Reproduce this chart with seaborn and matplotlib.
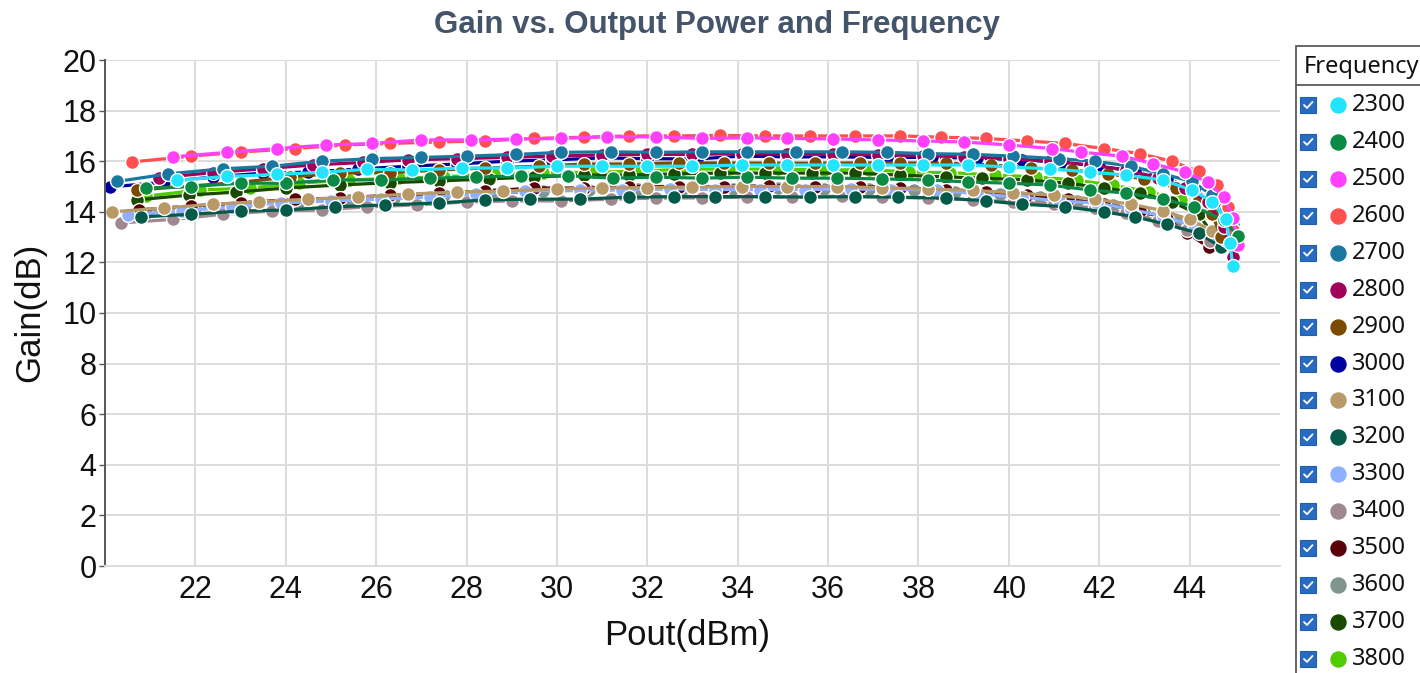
import numpy as np
import pandas as pd
import matplotlib
matplotlib.use("Agg")
import matplotlib.pyplot as plt
import seaborn as sns
from matplotlib.patches import Rectangle
from matplotlib.lines import Line2D

# ---------------- data ----------------
freqs = ["2300", "2400", "2500", "2600", "2700", "2800", "2900", "3000",
         "3100", "3200", "3300", "3400", "3500", "3600", "3700", "3800"]
colors = ["#22e4ff", "#0a8a45", "#ff40ff", "#ff5050", "#1a78a0", "#a0005a",
          "#7a4a00", "#0000a0", "#b89968", "#055a4a", "#8fb0ff", "#a08890",
          "#5a0008", "#80958f", "#1a4a00", "#50cc00"]

pout_2300 = [21.6, 22.7, 23.8, 24.8, 25.8, 26.8, 27.9, 28.9, 30.0, 31.0, 32.0, 33.0, 34.1, 35.1,
             36.1, 37.1, 38.1, 39.1, 40.0, 40.9, 41.8, 42.6, 43.4, 44.05, 44.5, 44.8, 44.9, 44.95]
gain_2300 = [15.25, 15.4, 15.48, 15.56, 15.68, 15.65, 15.73, 15.73, 15.8, 15.8, 15.8, 15.8, 15.85, 15.85,
             15.85, 15.85, 15.85, 15.85, 15.77, 15.7, 15.57, 15.45, 15.26, 14.86, 14.4, 13.7, 12.75, 11.86]

pout_2400 = [20.9, 21.9, 23.0, 24.0, 25.05, 26.1, 27.2, 28.2, 29.2, 30.25, 31.25, 32.2, 33.2, 34.2,
             35.2, 36.2, 37.2, 38.2, 39.1, 40.0, 40.9, 41.8, 42.6, 43.4, 44.1, 44.75, 45.07]
gain_2400 = [14.94, 15.0, 15.13, 15.13, 15.26, 15.26, 15.33, 15.37, 15.42, 15.42, 15.33, 15.37, 15.33, 15.37,
             15.33, 15.33, 15.3, 15.26, 15.18, 15.13, 15.06, 14.86, 14.74, 14.5, 14.2, 13.68, 13.04]

pout_2500 = [21.5, 22.7, 23.8, 24.9, 25.9, 27.0, 28.1, 29.1, 30.1, 31.1, 32.2, 33.2, 34.2, 35.1,
             36.1, 37.1, 38.1, 39.0, 40.0, 40.96, 41.6, 42.5, 43.2, 43.9, 44.4, 44.75, 44.97, 45.07]
gain_2500 = [16.17, 16.35, 16.5, 16.64, 16.7, 16.84, 16.84, 16.88, 16.9, 16.96, 16.96, 16.9, 16.92, 16.9,
             16.88, 16.84, 16.8, 16.76, 16.64, 16.5, 16.36, 16.2, 15.9, 15.57, 15.17, 14.6, 13.75, 12.7]

pout_2600 = [20.6, 21.9, 23.0, 24.2, 25.3, 26.3, 27.4, 28.4, 29.5, 30.6, 31.6, 32.6, 33.6, 34.6,
             35.6, 36.6, 37.6, 38.5, 39.5, 40.4, 41.25, 42.1, 42.9, 43.6, 44.2, 44.6, 44.85, 44.95]
gain_2600 = [15.97, 16.2, 16.36, 16.5, 16.64, 16.7, 16.76, 16.8, 16.9, 16.95, 17.0, 17.0, 17.02, 17.0,
             17.0, 17.0, 17.0, 16.95, 16.9, 16.8, 16.7, 16.5, 16.3, 16.0, 15.6, 15.05, 14.2, 13.3]

pout_2700 = [20.27, 21.4, 22.6, 23.7, 24.8, 25.9, 27.0, 28.0, 29.1, 30.1, 31.2, 32.2, 33.2, 34.2,
             35.3, 36.3, 37.3, 38.2, 39.2, 40.1, 41.1, 41.9, 42.7, 43.4, 44.05, 44.5, 44.8, 44.95]
gain_2700 = [15.2, 15.5, 15.7, 15.8, 16.0, 16.1, 16.15, 16.2, 16.27, 16.35, 16.37, 16.35, 16.37, 16.37,
             16.37, 16.37, 16.35, 16.3, 16.27, 16.2, 16.1, 16.0, 15.8, 15.5, 15.2, 14.66, 14.1, 13.5]

pout_2800 = [21.2, 22.4, 23.5, 24.6, 25.7, 26.7, 27.8, 28.9, 29.9, 31.0, 32.0, 33.0, 34.1, 35.1,
             36.1, 37.1, 38.1, 39.0, 40.0, 40.9, 41.8, 42.6, 43.3, 43.9, 44.4, 44.75, 44.95]
gain_2800 = [15.35, 15.55, 15.7, 15.85, 15.95, 16.05, 16.1, 16.15, 16.2, 16.25, 16.27, 16.27, 16.3, 16.3,
             16.28, 16.25, 16.22, 16.18, 16.1, 16.0, 15.85, 15.65, 15.35, 14.95, 14.4, 13.4, 12.2]

pout_2900 = [20.7, 21.9, 23.0, 24.1, 25.2, 26.3, 27.4, 28.4, 29.6, 30.6, 31.6, 32.7, 33.7, 34.7,
             35.7, 36.7, 37.6, 38.6, 39.6, 40.5, 41.4, 42.2, 43.0, 43.7, 44.2, 44.5, 44.7]
gain_2900 = [14.86, 15.02, 15.17, 15.38, 15.53, 15.55, 15.65, 15.73, 15.8, 15.89, 15.89, 15.93, 15.93, 15.92,
             15.92, 15.93, 15.93, 15.92, 15.85, 15.73, 15.65, 15.5, 15.3, 14.95, 14.47, 13.9, 13.0]

pout_3000 = [20.1, 21.3, 22.4, 23.5, 24.5, 25.6, 26.7, 27.8, 28.9, 29.9, 31.0, 32.0, 33.1, 34.1,
             35.1, 36.1, 37.3, 38.3, 39.3, 40.3, 41.2, 42.0, 42.8, 43.5, 44.1, 44.55, 44.85]
gain_3000 = [14.98, 15.17, 15.38, 15.53, 15.57, 15.69, 15.8, 15.89, 16.0, 16.05, 16.13, 16.1, 16.09, 16.2,
             16.17, 16.17, 16.15, 16.15, 16.12, 16.05, 15.95, 15.8, 15.6, 15.3, 14.9, 14.3, 13.3]

pout_3100 = [20.15, 21.3, 22.4, 23.4, 24.5, 25.6, 26.7, 27.8, 28.8, 30.0, 31.0, 32.0, 33.0, 34.1,
             35.1, 36.2, 37.2, 38.2, 39.2, 40.1, 41.0, 41.9, 42.7, 43.4, 44.0, 44.5, 44.8]
gain_3100 = [14.0, 14.15, 14.3, 14.4, 14.5, 14.58, 14.7, 14.78, 14.82, 14.9, 14.94, 14.96, 14.98, 15.0,
             15.0, 15.0, 14.95, 14.9, 14.85, 14.75, 14.65, 14.5, 14.3, 14.05, 13.7, 13.25, 12.9]

pout_3200 = [20.8, 21.9, 23.0, 24.0, 25.1, 26.2, 27.4, 28.4, 29.4, 30.5, 31.6, 32.6, 33.5, 34.6,
             35.6, 36.6, 37.55, 38.6, 39.5, 40.3, 41.25, 42.1, 42.8, 43.5, 44.2, 44.7]
gain_3200 = [13.8, 13.9, 14.03, 14.07, 14.2, 14.27, 14.35, 14.47, 14.5, 14.5, 14.58, 14.6, 14.6, 14.6,
             14.58, 14.6, 14.58, 14.54, 14.43, 14.3, 14.2, 14.0, 13.8, 13.5, 13.15, 12.6]

pout_3300 = [20.5, 21.7, 22.8, 23.9, 25.0, 26.1, 27.2, 28.2, 29.3, 30.5, 31.45, 32.5, 33.5, 34.5,
             35.5, 36.5, 37.4, 38.4, 39.3, 40.3, 41.1, 41.95, 42.7, 43.4, 44.1, 44.6, 44.85]
gain_3300 = [13.87, 14.03, 14.2, 14.35, 14.43, 14.5, 14.58, 14.7, 14.82, 14.86, 14.86, 14.9, 14.88, 14.88,
             14.88, 14.9, 14.88, 14.88, 14.7, 14.58, 14.43, 14.35, 14.1, 13.83, 13.44, 13.0, 12.7]

pout_3400 = [20.35, 21.5, 22.6, 23.7, 24.8, 25.8, 26.9, 28.0, 29.0, 30.1, 31.2, 32.2, 33.2, 34.2,
             35.2, 36.3, 37.2, 38.2, 39.2, 40.1, 41.0, 41.9, 42.6, 43.3, 43.95, 44.45]
gain_3400 = [13.56, 13.7, 13.9, 14.03, 14.07, 14.2, 14.27, 14.39, 14.43, 14.43, 14.5, 14.54, 14.55, 14.58,
             14.58, 14.62, 14.58, 14.54, 14.47, 14.4, 14.3, 14.15, 13.95, 13.65, 13.3, 12.85]

pout_3500 = [20.75, 21.9, 23.0, 24.2, 25.2, 26.3, 27.4, 28.4, 29.5, 30.6, 31.6, 32.7, 33.7, 34.7,
             35.7, 36.7, 37.6, 38.6, 39.5, 40.4, 41.3, 42.1, 42.9, 43.5, 43.95, 44.43]
gain_3500 = [14.07, 14.23, 14.35, 14.5, 14.54, 14.66, 14.74, 14.82, 14.94, 14.94, 15.0, 15.0, 15.0, 15.03,
             15.0, 15.0, 14.94, 14.88, 14.78, 14.65, 14.5, 14.3, 14.05, 13.7, 13.15, 12.6]

pout_3600 = [20.9, 22.0, 23.1, 24.3, 25.4, 26.4, 27.5, 28.6, 29.7, 30.7, 31.8, 32.8, 33.9, 34.9,
             35.9, 36.9, 37.9, 38.8, 39.8, 40.7, 41.5, 42.3, 43.0, 43.7, 44.3, 44.7]
gain_3600 = [13.95, 14.1, 14.25, 14.4, 14.45, 14.55, 14.65, 14.72, 14.82, 14.85, 14.9, 14.92, 14.92, 14.94,
             14.92, 14.9, 14.85, 14.8, 14.7, 14.58, 14.43, 14.25, 14.0, 13.65, 13.2, 12.7]

pout_3700 = [20.7, 21.85, 22.9, 24.0, 25.2, 26.3, 27.4, 28.5, 29.5, 30.6, 31.6, 32.6, 33.6, 34.6,
             35.65, 36.6, 37.6, 38.6, 39.4, 40.4, 41.3, 42.1, 42.9, 43.6, 44.2, 44.6]
gain_3700 = [14.47, 14.66, 14.78, 14.94, 15.06, 15.15, 15.22, 15.3, 15.38, 15.45, 15.45, 15.5, 15.53, 15.53,
             15.53, 15.53, 15.45, 15.38, 15.33, 15.26, 15.13, 14.94, 14.74, 14.4, 13.9, 12.9]

pout_3800 = [20.9, 22.1, 23.2, 24.3, 25.4, 26.5, 27.5, 28.6, 29.7, 30.8, 31.85, 32.8, 33.8, 34.9,
             35.9, 36.9, 37.8, 38.7, 39.7, 40.6, 41.5, 42.3, 43.1, 43.8, 44.4, 44.8]
gain_3800 = [14.62, 14.86, 14.94, 15.13, 15.26, 15.33, 15.38, 15.5, 15.53, 15.57, 15.6, 15.69, 15.69, 15.69,
             15.65, 15.67, 15.57, 15.55, 15.45, 15.38, 15.25, 15.05, 14.8, 14.45, 13.95, 13.3]

x_ticks = [22, 24, 26, 28, 30, 32, 34, 36, 38, 40, 42, 44]
y_ticks = [0, 2, 4, 6, 8, 10, 12, 14, 16, 18, 20]

series = {
    "2300": (pout_2300, gain_2300), "2400": (pout_2400, gain_2400),
    "2500": (pout_2500, gain_2500), "2600": (pout_2600, gain_2600),
    "2700": (pout_2700, gain_2700), "2800": (pout_2800, gain_2800),
    "2900": (pout_2900, gain_2900), "3000": (pout_3000, gain_3000),
    "3100": (pout_3100, gain_3100), "3200": (pout_3200, gain_3200),
    "3300": (pout_3300, gain_3300), "3400": (pout_3400, gain_3400),
    "3500": (pout_3500, gain_3500), "3600": (pout_3600, gain_3600),
    "3700": (pout_3700, gain_3700), "3800": (pout_3800, gain_3800),
}

rows = []
for f in freqs:
    p, g = series[f]
    for i, (a, b) in enumerate(zip(p, g)):
        rows.append((f, a, b, i))
df = pd.DataFrame(rows, columns=["Frequency", "Pout", "Gain", "Step"])

# ---------------- figure ----------------
sns.set_theme(style="white")
plt.rcParams["font.family"] = ["Liberation Sans", "DejaVu Sans"]

W, H = 1420, 673
fig = plt.figure(figsize=(W / 100, H / 100), dpi=100)
fig.patch.set_facecolor("white")

def fx(x):
    return x / W

def fy(y):
    return 1 - y / H

ax_left, ax_right, ax_top, ax_bot = 105, 1280, 60, 566
ax = fig.add_axes([fx(ax_left), fy(ax_bot), (ax_right - ax_left) / W, (ax_bot - ax_top) / H])

palette = dict(zip(freqs, colors))
sns.lineplot(data=df, x="Pout", y="Gain", hue="Frequency", hue_order=freqs[::-1],
             palette=palette, marker="o", markersize=10, markeredgecolor="white",
             markeredgewidth=1.0, linewidth=2.3, sort=False, estimator=None,
             legend=False, ax=ax)

ax.set_xlim(20, 46)
ax.set_ylim(0, 20)
ax.set_xticks(x_ticks)
ax.set_yticks(y_ticks)
ax.set_xticklabels([str(t) for t in x_ticks])
ax.set_yticklabels([str(t) for t in y_ticks])
ax.grid(True, color="#dcdcdc", linewidth=1.4)
ax.set_axisbelow(True)
for s in ["top", "right"]:
    ax.spines[s].set_visible(False)
ax.spines["bottom"].set_color("#dcdcdc")
ax.spines["bottom"].set_linewidth(1.4)
ax.spines["left"].set_color("#555555")
ax.spines["left"].set_linewidth(1.4)
ax.tick_params(axis="y", which="both", left=True, length=4, width=1.0, color="#555555",
               labelsize=22, labelcolor="#111111", pad=2)
ax.tick_params(axis="x", which="both", bottom=False, labelsize=22, labelcolor="#111111", pad=0.5)
ax.set_xlabel("")
ax.set_ylabel("")

fig.text(fx(687), fy(636), "Pout(dBm)", ha="center", va="center", fontsize=25, color="#111111")
fig.text(fx(30), fy(312), "Gain(dB)", ha="center", va="center", rotation=90, fontsize=25,
         color="#111111")
fig.text(fx(717), fy(25), "Gain vs. Output Power and Frequency", ha="center", va="center",
         fontsize=22.5, fontweight="bold", color="#44546a")

# ---------------- legend panel ----------------
leg_font = ["Noto Sans", "DejaVu Sans"]
fig.add_artist(Rectangle((fx(1296), fy(700)), (W + 20 - 1296) / W, (700 - 46) / H,
                         transform=fig.transFigure, facecolor="white", edgecolor="#5a5a5a",
                         linewidth=1.3, clip_on=False))
fig.add_artist(Line2D([fx(1296), fx(1425)], [fy(85), fy(85)], transform=fig.transFigure,
                      color="#5a5a5a", linewidth=1.3))
fig.text(fx(1304), fy(67), "Frequency", ha="left", va="center", fontsize=17,
         family=leg_font, color="#111111")

for i, (f, c) in enumerate(zip(freqs, colors)):
    yy = 105 + i * 36.93
    fig.add_artist(Line2D([fx(1308)], [fy(yy)], transform=fig.transFigure, marker="s",
                          markersize=11.5, markerfacecolor="#2a6bc2", markeredgecolor="#1f5fb0",
                          markeredgewidth=0.8, linestyle="none"))
    fig.add_artist(Line2D([fx(1304), fx(1307), fx(1312.5)], [fy(yy), fy(yy + 3), fy(yy - 3)],
                          transform=fig.transFigure, color="white", linewidth=1.3))
    fig.add_artist(Line2D([fx(1338)], [fy(yy)], transform=fig.transFigure, marker="o",
                          markersize=10.8, markerfacecolor=c, markeredgecolor=c,
                          linestyle="none"))
    fig.text(fx(1352), fy(yy), f, ha="left", va="center", fontsize=17, family=leg_font,
             color="#111111")

fig.savefig("out.png", dpi=100, facecolor="white")
